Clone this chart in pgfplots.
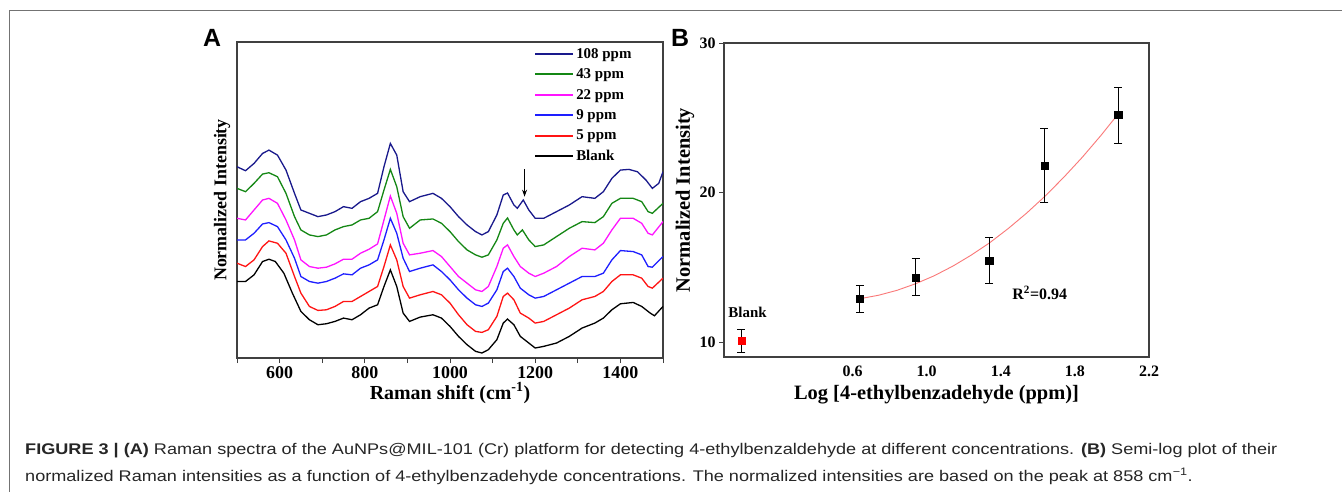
\documentclass[border=0pt]{standalone}
\usepackage{fontspec}
\setmainfont{Liberation Serif}
\newfontfamily\capfont{Liberation Sans}[FakeStretch=1.172]
\newfontfamily\labfont{Liberation Sans}
\usepackage{pgfplots}
\pgfplotsset{compat=1.18}
\usetikzlibrary{arrows.meta}
\definecolor{cnavy}{RGB}{25,25,140}
\definecolor{cgreen}{RGB}{20,135,20}
\definecolor{cmag}{RGB}{255,20,255}
\definecolor{cblue}{RGB}{30,30,255}
\definecolor{cred}{RGB}{255,20,20}
\definecolor{fitred}{RGB}{250,120,120}
\begin{document}
\begin{tikzpicture}
\useasboundingbox[fill=white] (0,0) rectangle (1342bp,-492bp);
\draw[black!55, line width=1bp] (9.5bp,-600bp) -- (9.5bp,-10.5bp) -- (1400bp,-10.5bp);
\node[font=\labfont\bfseries\fontsize{25}{25}\selectfont, inner sep=0] at (212bp,-38bp) {A};
\node[font=\labfont\bfseries\fontsize{25}{25}\selectfont, inner sep=0] at (680bp,-38bp) {B};
% ---------------- Panel A ----------------
\begin{axis}[
  at={(237bp,-358bp)}, anchor=south west,
  width=426bp, height=316bp, scale only axis,
  xmin=500, xmax=1500, ymin=0, ymax=950,
  xtick={600,800,...,1400}, minor xtick={500,700,...,1500},
  ytick=\empty, xtick pos=bottom, tick align=outside,
  major tick length=5bp, minor tick length=5bp,
  axis line style={line width=1.2bp, black!75},
  every tick/.style={black!75, line width=1bp},
  tick label style={font=\bfseries\fontsize{18}{18}\selectfont},
  /pgf/number format/assume math mode=true,
  /pgf/number format/1000 sep={},
  xlabel={Raman shift (cm\textsuperscript{-1})},
  xlabel style={font=\bfseries\fontsize{20}{20}\selectfont, at={(axis description cs:0.5,-0.111)}, anchor=center},
  ylabel={Normalized Intensity},
  ylabel style={font=\bfseries\fontsize{18}{18}\selectfont, at={(axis description cs:-0.035,0.5)}, anchor=center},
  legend style={at={(rel axis cs:0.695,0.99)}, anchor=north west, draw=none, fill=none,
    font=\bfseries\fontsize{15}{15}\selectfont, row sep=5bp, inner sep=1bp},
  legend cell align=left,
  reverse legend,
  legend image code/.code={\draw[#1, line width=2bp] (0bp,0bp) -- (38bp,0bp);},
  every axis plot/.append style={line width=1.3bp},
]
\addplot[black] coordinates {
(500,230)(520,230)(540,250)(560,290)(575,297)(590,290)(610,255)(630,195)(650,140)(670,115)
(690,100)(710,103)(730,110)(750,120)(770,115)(790,130)(810,150)(830,160)(845,215)(860,265)
(875,215)(890,135)(905,110)(930,123)(960,130)(980,120)(1000,95)(1020,65)(1040,40)(1060,20)
(1075,15)(1090,25)(1110,55)(1125,105)(1135,117)(1150,100)(1165,65)(1185,45)(1200,30)(1220,35)
(1250,45)(1280,65)(1310,90)(1340,105)(1360,120)(1380,145)(1400,163)(1430,167)(1450,155)(1470,135)
(1480,127)(1500,155)};
\addlegendentry{Blank}
\addplot[cred] coordinates {
(500,285)(520,275)(540,295)(560,335)(575,352)(595,345)(615,315)(635,245)(650,195)(670,155)
(690,143)(710,145)(730,155)(750,170)(770,170)(790,185)(810,200)(830,215)(845,275)(860,340)
(875,295)(890,215)(905,180)(930,190)(960,200)(980,190)(1000,165)(1020,130)(1040,100)(1060,80)
(1075,77)(1090,85)(1110,125)(1125,185)(1135,195)(1150,175)(1165,135)(1185,120)(1200,105)(1220,110)
(1250,130)(1280,150)(1310,175)(1340,185)(1360,200)(1380,230)(1400,250)(1430,250)(1450,240)(1465,215)
(1475,210)(1500,240)};
\addlegendentry{5 ppm}
\addplot[cblue] coordinates {
(500,355)(520,355)(540,375)(560,403)(575,407)(595,395)(615,355)(635,300)(650,245)(670,230)
(690,225)(710,230)(730,240)(750,253)(770,250)(790,270)(810,280)(830,295)(845,355)(860,420)
(875,375)(890,300)(905,260)(930,270)(960,280)(980,260)(1000,235)(1020,205)(1040,180)(1060,160)
(1075,155)(1090,165)(1110,205)(1125,260)(1135,270)(1150,245)(1165,210)(1185,190)(1200,180)(1220,185)
(1250,205)(1280,225)(1310,245)(1340,245)(1360,255)(1380,295)(1400,323)(1430,320)(1450,310)(1465,275)
(1475,273)(1500,305)};
\addlegendentry{9 ppm}
\addplot[cmag] coordinates {
(500,420)(520,415)(540,445)(560,475)(575,480)(595,465)(615,415)(635,355)(650,295)(670,275)
(690,270)(710,273)(730,283)(750,297)(770,297)(790,315)(810,327)(830,343)(845,415)(860,487)
(875,435)(890,345)(905,310)(930,315)(960,323)(980,305)(1000,275)(1020,245)(1040,225)(1060,205)
(1075,200)(1090,215)(1110,275)(1125,330)(1135,340)(1150,305)(1165,275)(1185,255)(1200,245)(1220,255)
(1250,275)(1280,305)(1310,330)(1340,325)(1360,345)(1380,385)(1400,420)(1430,420)(1450,405)(1465,375)
(1475,370)(1500,410)};
\addlegendentry{22 ppm}
\addplot[cgreen] coordinates {
(500,510)(520,500)(540,525)(560,553)(575,557)(595,545)(615,495)(635,425)(650,385)(670,370)
(690,365)(710,370)(730,385)(750,395)(770,400)(790,415)(810,420)(830,440)(845,505)(860,567)
(875,515)(890,425)(905,390)(930,415)(960,418)(980,405)(1000,380)(1020,350)(1040,325)(1060,310)
(1075,303)(1090,310)(1110,355)(1125,405)(1135,421)(1150,385)(1158,370)(1170,385)(1185,355)(1200,335)
(1220,340)(1250,365)(1280,390)(1310,410)(1340,407)(1360,425)(1380,465)(1400,480)(1430,480)(1450,470)
(1465,440)(1475,435)(1500,465)};
\addlegendentry{43 ppm}
\addplot[cnavy] coordinates {
(500,575)(520,563)(540,585)(560,615)(575,625)(595,610)(615,565)(635,495)(650,445)(670,435)
(690,425)(710,430)(730,440)(750,455)(770,450)(790,470)(810,480)(830,495)(845,575)(860,645)
(875,610)(890,500)(905,470)(930,485)(960,495)(980,480)(1000,455)(1020,425)(1040,400)(1060,380)
(1075,370)(1090,380)(1110,430)(1125,490)(1135,496)(1150,460)(1158,450)(1172,475)(1185,445)(1200,420)
(1220,420)(1250,440)(1280,460)(1310,485)(1340,480)(1360,500)(1380,540)(1400,565)(1420,567)(1440,560)
(1460,535)(1475,510)(1490,525)(1500,560)};
\addlegendentry{108 ppm}
\draw[-{Stealth[length=7bp,width=5bp]}, line width=1.1bp] (axis cs:1175,567) -- (axis cs:1175,485);
\end{axis}
% ---------------- Panel B ----------------
\begin{axis}[
  at={(724bp,-357bp)}, anchor=south west,
  width=425bp, height=314bp, scale only axis,
  xmin=-0.094, xmax=2.2, ymin=9, ymax=30,
  xtick={0.6,1.0,1.4,1.8,2.2}, ytick={10,20,30},
  xticklabel style={/pgf/number format/fixed, /pgf/number format/fixed zerofill, /pgf/number format/precision=1},
  xtick style={draw=none},
  ytick pos=left, tick align=outside, major tick length=5bp,
  axis line style={line width=1.2bp, black!75},
  every tick/.style={black!75, line width=1bp},
  tick label style={font=\bfseries\fontsize{16}{16}\selectfont},
  /pgf/number format/assume math mode=true,
  xlabel={Log [4-ethylbenzadehyde (ppm)]},
  xlabel style={font=\bfseries\fontsize{20.5}{20.5}\selectfont, at={(axis description cs:0.5,-0.121)}, anchor=center},
  ylabel={Normalized Intensity},
  ylabel style={font=\bfseries\fontsize{20.5}{20.5}\selectfont, at={(axis description cs:-0.092,0.5)}, anchor=center},
]
\addplot[fitred, line width=0.9bp] coordinates {
(0.64,12.90)(0.74,13.13)(0.84,13.46)(0.94,13.90)(1.04,14.43)(1.14,15.07)(1.24,15.81)(1.34,16.64)
(1.44,17.59)(1.54,18.63)(1.64,19.77)(1.74,21.02)(1.84,22.36)(1.94,23.81)(2.03,25.20)};
\addplot[black, only marks, mark=square*, mark size=3.6bp,
  error bars/.cd, y dir=both, y explicit,
  error bar style={line width=1bp, black},
  error mark options={rotate=90, mark size=4bp, line width=1bp, black}]
  coordinates {
  (0.64,12.88) +- (0,0.93)
  (0.94,14.33) +- (0,1.25)
  (1.337,15.46) +- (0,1.56)
  (1.635,21.80) +- (0,2.50)
  (2.034,25.18) +- (0,1.87)};
\addplot[red, only marks, mark=square*, mark size=3.6bp,
  error bars/.cd, y dir=both, y explicit,
  error bar style={line width=1bp, black},
  error mark options={rotate=90, mark size=4bp, line width=1bp, black}]
  coordinates {(0.0,10.09) +- (0,0.77)};
\node[font=\bfseries\fontsize{15}{15}\selectfont] at (axis cs:0.033,12.0) {Blank};
\node[font=\bfseries\fontsize{16}{16}\selectfont] at (axis cs:1.61,13.28) {R\textsuperscript{2}=0.94};
\end{axis}
% ---------------- Caption ----------------
\node[anchor=base west, inner sep=0, font=\capfont\fontsize{15.5}{15.5}\selectfont, text=black!85] at (25bp,-454bp)
  {\textbf{FIGURE 3 | (A)} Raman spectra of the AuNPs@MIL-101 (Cr) platform for detecting 4-ethylbenzaldehyde at different concentrations. \textbf{(B)} Semi-log plot of their};
\node[anchor=base west, inner sep=0, font=\capfont\fontsize{15.5}{15.5}\selectfont, text=black!85] at (25bp,-481bp)
  {normalized Raman intensities as a function of 4-ethylbenzadehyde concentrations. The normalized intensities are based on the peak at 858 cm\textsuperscript{\textminus1}.};
\end{tikzpicture}
\end{document}
